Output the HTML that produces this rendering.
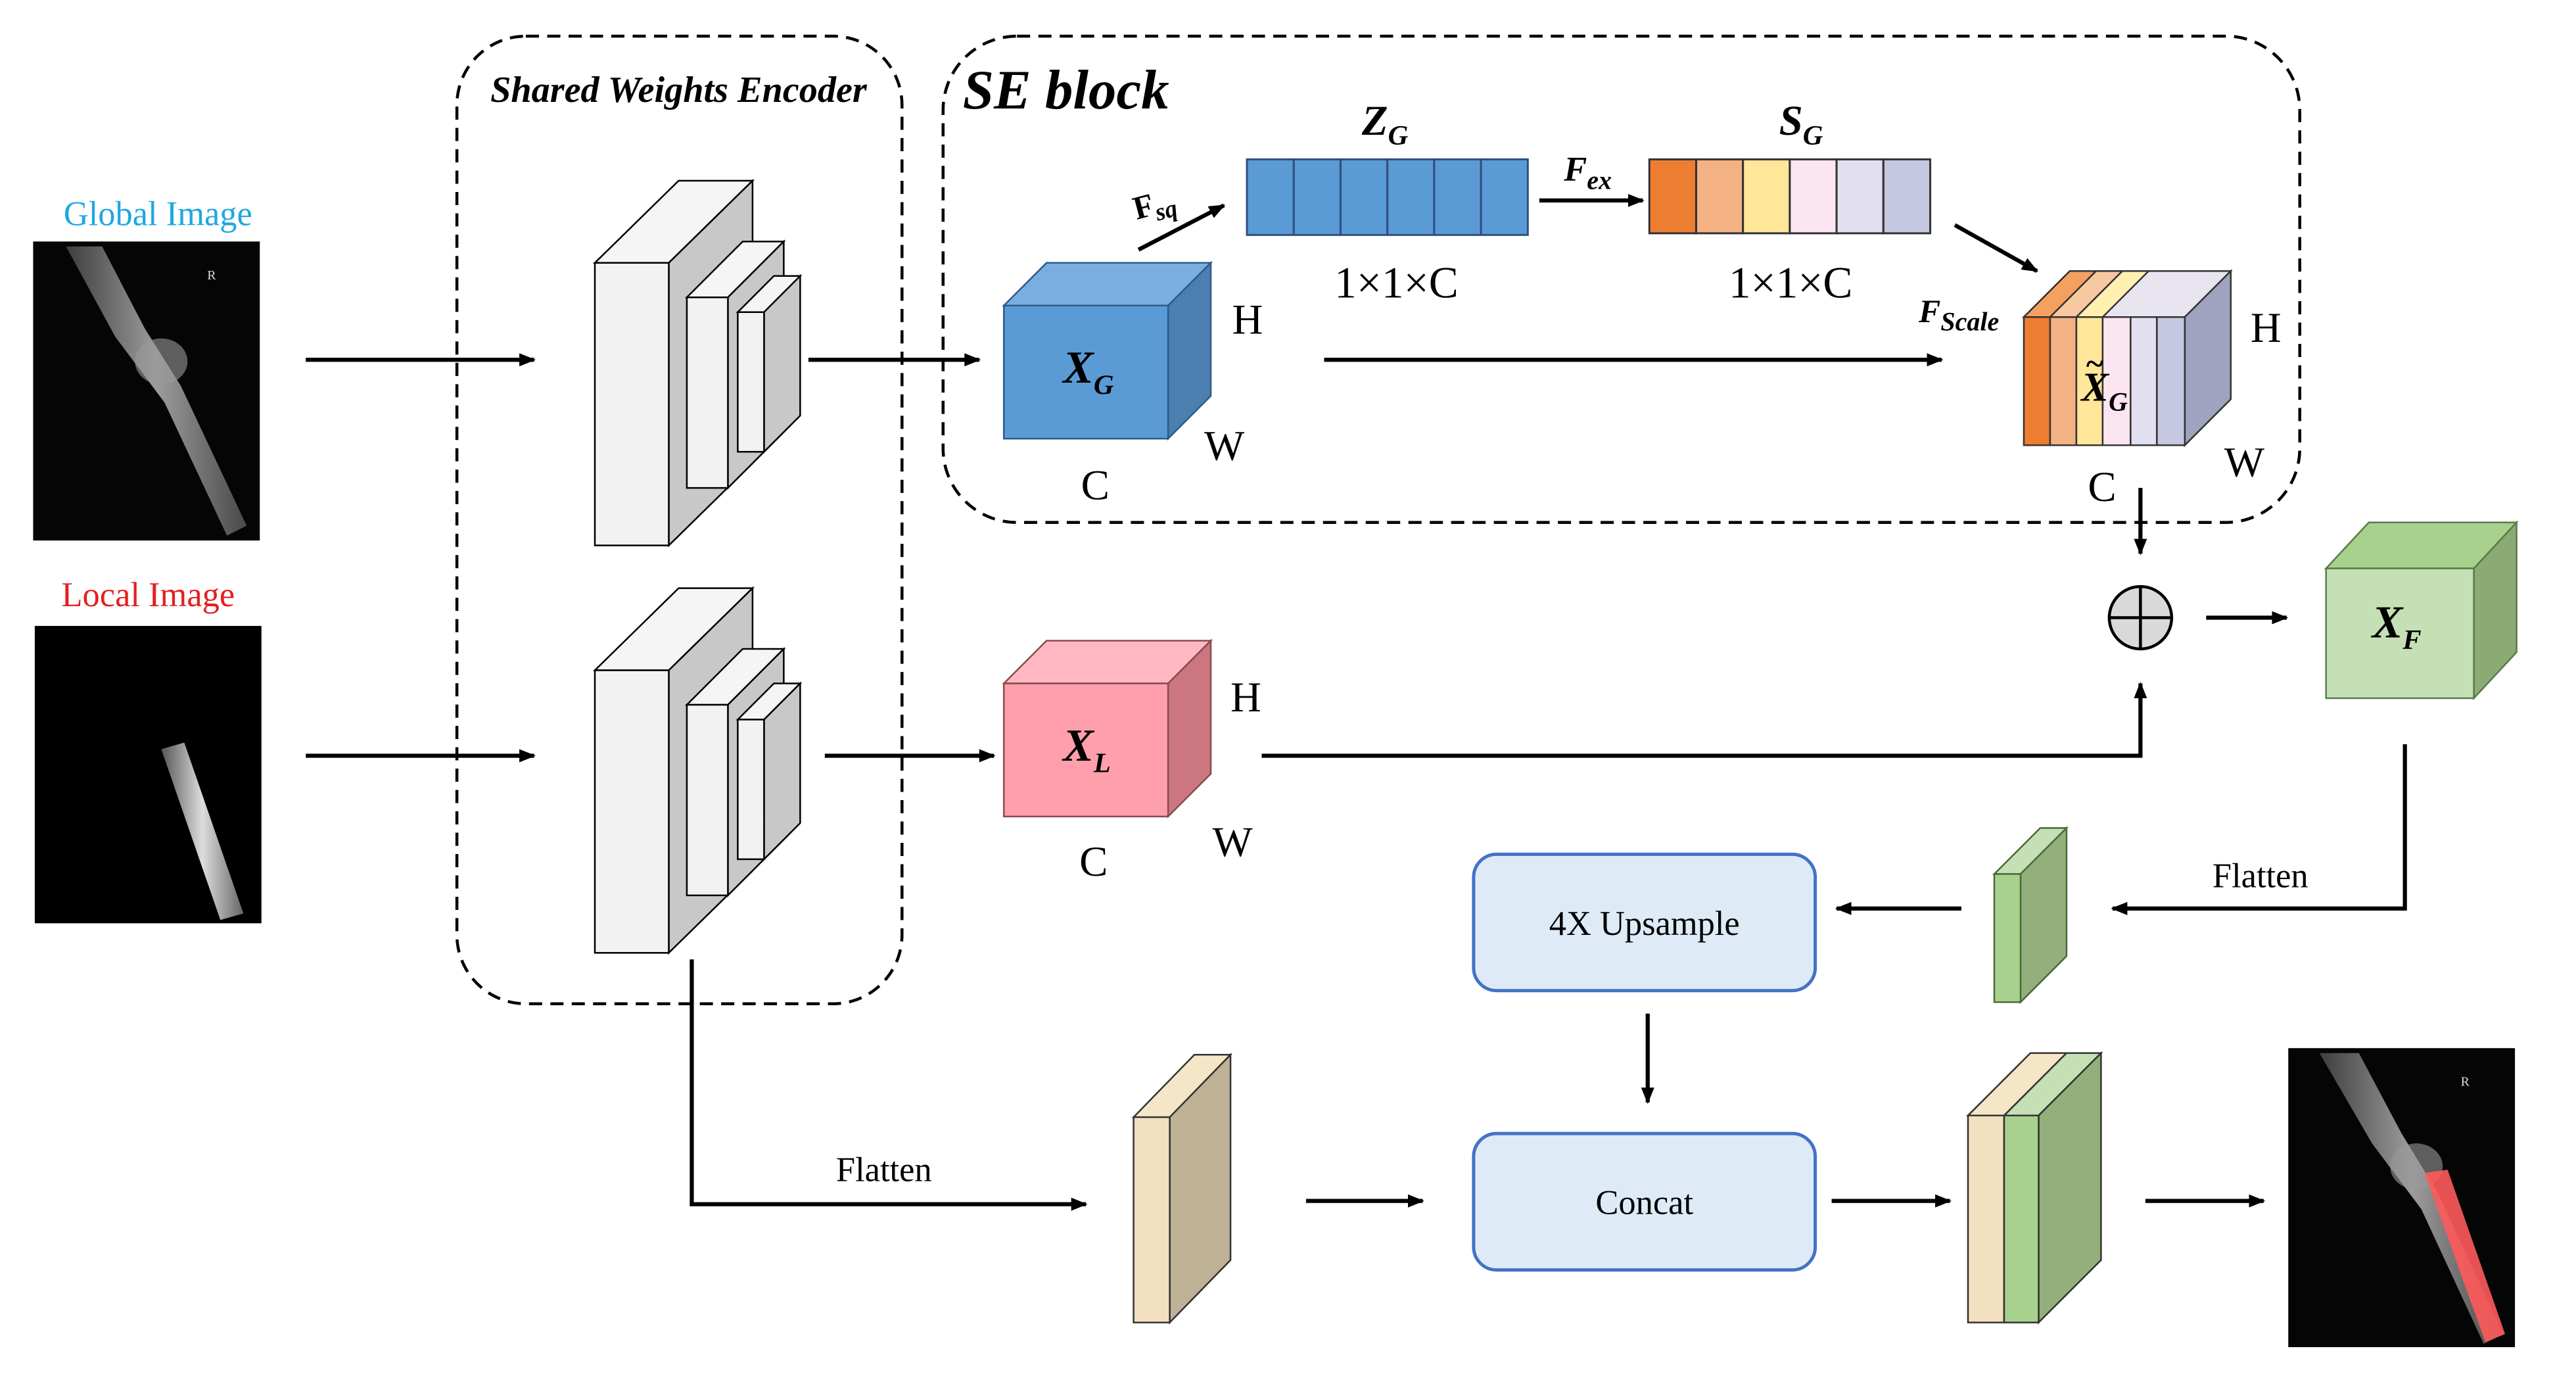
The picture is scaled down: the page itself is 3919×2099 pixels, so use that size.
<!DOCTYPE html>
<html><head><meta charset="utf-8"><style>
html,body{margin:0;padding:0;background:#fff;}
svg{display:block;}
text{font-family:"Liberation Serif",serif;}
</style></head><body>
<svg width="3919" height="2099" viewBox="0 0 1568 840" xmlns="http://www.w3.org/2000/svg">
<defs>
<marker id="ah" markerWidth="10" markerHeight="10" refX="9" refY="5" orient="auto" markerUnits="userSpaceOnUse">
<path d="M0,1 L10,5 L0,9 z" fill="#000"/></marker>
<linearGradient id="bone" x1="0" x2="1"><stop offset="0" stop-color="#555"/><stop offset=".5" stop-color="#ddd"/><stop offset="1" stop-color="#666"/></linearGradient>
</defs>
<rect width="1568" height="840" fill="#fff"/>

<text x="96" y="137" font-size="21" fill="#1ea8e0" text-anchor="middle">Global Image</text>
<rect x="20" y="147" width="138" height="182" fill="#050505"/>
<path d="M40,150 L62,150 L88,200 L110,235 L150,320 L138,326 L100,245 L70,205 Z" fill="url(#bone)" opacity=".7"/>
<ellipse cx="98" cy="220" rx="16" ry="14" fill="#9a9a9a" opacity=".6"/>
<text x="126" y="170" font-size="8" fill="#ddd">R</text>
<text x="90" y="369" font-size="21" fill="#e32020" text-anchor="middle">Local Image</text>
<rect x="21" y="381" width="138" height="181" fill="#000"/>
<path d="M98,456 L112,452 L148,556 L134,560 Z" fill="url(#bone)"/>

<g stroke="#000" stroke-width="2.5" fill="none" marker-end="url(#ah)">
<line x1="186" y1="219" x2="325" y2="219"/>
<line x1="186" y1="460" x2="325" y2="460"/>
<line x1="492" y1="219" x2="596" y2="219"/>
<line x1="502" y1="460" x2="605" y2="460"/>
<line x1="693" y1="152" x2="745" y2="125"/>
<line x1="937" y1="122" x2="1000" y2="122"/>
<line x1="1190" y1="137" x2="1240" y2="165"/>
<line x1="806" y1="219" x2="1182" y2="219"/>
<line x1="1303" y1="297" x2="1303" y2="337"/>
<line x1="1343" y1="376" x2="1392" y2="376"/>
<polyline points="768,460 1303,460 1303,416"/>
<polyline points="1464,453 1464,553 1286,553"/>
<line x1="1194" y1="553" x2="1118" y2="553"/>
<line x1="1003" y1="617" x2="1003" y2="671"/>
<polyline points="421,584 421,733 661,733"/>
<line x1="795" y1="731" x2="866" y2="731"/>
<line x1="1115" y1="731" x2="1187" y2="731"/>
<line x1="1306" y1="731" x2="1378" y2="731"/>
</g>

<rect x="278" y="22" width="271" height="589" rx="42" fill="none" stroke="#000" stroke-width="1.8" stroke-dasharray="8,5"/>
<text x="413" y="62" font-size="22.5" font-weight="bold" font-style="italic" text-anchor="middle">Shared Weights Encoder</text>

<g id="enc" stroke="#000" stroke-width="1">
<polygon points="362,160 413,110 458,110 407,160" fill="#f5f5f5"/>
<polygon points="407,160 458,110 458,282 407,332" fill="#c8c8c8"/>
<rect x="362" y="160" width="45" height="172" fill="#f2f2f2"/>
<polygon points="418,181 452,147 477,147 443,181" fill="#f5f5f5"/>
<polygon points="443,181 477,147 477,263 443,297" fill="#c8c8c8"/>
<rect x="418" y="181" width="25" height="116" fill="#f2f2f2"/>
<polygon points="449,190 471,168 487,168 465,190" fill="#f5f5f5"/>
<polygon points="465,190 487,168 487,253 465,275" fill="#c8c8c8"/>
<rect x="449" y="190" width="16" height="85" fill="#f2f2f2"/>
</g>
<use href="#enc" transform="translate(0,248)"/>

<rect x="574" y="22" width="826" height="296" rx="45" fill="none" stroke="#000" stroke-width="1.8" stroke-dasharray="8,5"/>
<text x="586" y="66" font-size="34" font-weight="bold" font-style="italic">SE block</text>

<g stroke="#2f5a8a" stroke-width="1">
<polygon points="611,186 637,160 737,160 711,186" fill="#7aaee0"/>
<polygon points="711,186 737,160 737,241 711,267" fill="#4a7fb0"/>
<rect x="611" y="186" width="100" height="81" fill="#5b9bd5"/>
</g>
<text x="647" y="233" font-size="28" font-weight="bold" font-style="italic">X<tspan font-size="17" dy="7">G</tspan></text>
<text x="750" y="203" font-size="26">H</text>
<text x="733" y="280" font-size="26">W</text>
<text x="658" y="304" font-size="26">C</text>

<text x="690" y="130" font-size="20" font-weight="bold" transform="rotate(-15 705 125)">F<tspan font-size="15" dy="4" font-style="italic">sq</tspan></text>

<g stroke="#2f4f7f" stroke-width="1.2" fill="#5b9bd5">
<rect x="759" y="97" width="28.5" height="46"/><rect x="787.5" y="97" width="28.5" height="46"/><rect x="816" y="97" width="28.5" height="46"/>
<rect x="844.5" y="97" width="28.5" height="46"/><rect x="873" y="97" width="28.5" height="46"/><rect x="901.5" y="97" width="28.5" height="46"/>
</g>
<text x="829" y="82" font-size="26" font-weight="bold" font-style="italic">Z<tspan font-size="17" dy="6">G</tspan></text>
<text x="850" y="181" font-size="27" text-anchor="middle">1×1×C</text>
<text x="952" y="110" font-size="21" font-weight="bold" font-style="italic">F<tspan font-size="16" dy="5">ex</tspan></text>

<g stroke="#333" stroke-width="1.2">
<rect x="1004" y="97" width="28.5" height="45" fill="#ed7d31"/><rect x="1032.5" y="97" width="28.5" height="45" fill="#f4b183"/>
<rect x="1061" y="97" width="28.5" height="45" fill="#ffe699"/><rect x="1089.5" y="97" width="28.5" height="45" fill="#fbe5f0"/>
<rect x="1118" y="97" width="28.5" height="45" fill="#e2e0f0"/><rect x="1146.5" y="97" width="28.5" height="45" fill="#c5c8e0"/>
</g>
<text x="1083" y="82" font-size="26" font-weight="bold" font-style="italic">S<tspan font-size="17" dy="6">G</tspan></text>
<text x="1090" y="181" font-size="27" text-anchor="middle">1×1×C</text>

<g stroke="#333" stroke-width="1">
<polygon points="1232,193 1260,165 1358,165 1330,193" fill="#e8e4f0"/>
<polygon points="1330,193 1358,165 1358,243 1330,271" fill="#9fa3c0"/>
<polygon points="1232,193 1260,165 1276,165 1248,193" fill="#f4a060"/>
<polygon points="1248,193 1276,165 1292,165 1264,193" fill="#f8c8a0"/>
<polygon points="1264,193 1292,165 1308,165 1280,193" fill="#fff0b0"/>
<rect x="1232" y="193" width="16" height="78" fill="#ed7d31"/>
<rect x="1248" y="193" width="16" height="78" fill="#f4b183"/>
<rect x="1264" y="193" width="16" height="78" fill="#ffe699"/>
<rect x="1280" y="193" width="17" height="78" fill="#fbe5f0"/>
<rect x="1297" y="193" width="16" height="78" fill="#e2e0f0"/>
<rect x="1313" y="193" width="17" height="78" fill="#c5c8e0"/>
</g>
<text x="1267" y="244" font-size="25" font-weight="bold" font-style="italic">X<tspan font-size="16" dy="6">G</tspan></text>
<text x="1270" y="228" font-size="20" font-weight="bold">~</text>
<text x="1168" y="196" font-size="20" font-weight="bold" font-style="italic">F<tspan font-size="16" dy="5">Scale</tspan></text>
<text x="1370" y="208" font-size="26">H</text>
<text x="1354" y="290" font-size="26">W</text>
<text x="1271" y="305" font-size="26">C</text>

<circle cx="1303" cy="376" r="19" fill="#d9d9d9" stroke="#000" stroke-width="1.8"/>
<line x1="1284" y1="376" x2="1322" y2="376" stroke="#000" stroke-width="1.8"/>
<line x1="1303" y1="357" x2="1303" y2="395" stroke="#000" stroke-width="1.8"/>

<g stroke="#5a7a4a" stroke-width="1">
<polygon points="1416,346 1442,318 1532,318 1506,346" fill="#a9d18e"/>
<polygon points="1506,346 1532,318 1532,397 1506,425" fill="#8aab74"/>
<rect x="1416" y="346" width="90" height="79" fill="#c5e0b4"/>
</g>
<text x="1444" y="388" font-size="28" font-weight="bold" font-style="italic">X<tspan font-size="17" dy="7">F</tspan></text>

<g stroke="#8a4a55" stroke-width="1">
<polygon points="611,416 637,390 737,390 711,416" fill="#ffb8c2"/>
<polygon points="711,416 737,390 737,471 711,497" fill="#cc7680"/>
<rect x="611" y="416" width="100" height="81" fill="#ff9fac"/>
</g>
<text x="647" y="463" font-size="28" font-weight="bold" font-style="italic">X<tspan font-size="17" dy="7">L</tspan></text>
<text x="749" y="433" font-size="26">H</text>
<text x="738" y="521" font-size="26">W</text>
<text x="657" y="533" font-size="26">C</text>

<text x="1376" y="540" font-size="21" text-anchor="middle">Flatten</text>
<text x="538" y="719" font-size="21" text-anchor="middle">Flatten</text>

<g stroke="#4a6a3a" stroke-width="1">
<polygon points="1214,532 1242,504 1258,504 1230,532" fill="#c5e0b4"/>
<polygon points="1230,532 1258,504 1258,582 1230,610" fill="#93b07c"/>
<rect x="1214" y="532" width="16" height="78" fill="#a9d18e"/>
</g>

<rect x="897" y="520" width="208" height="83" rx="14" fill="#deebf7" stroke="#4472c4" stroke-width="2"/>
<text x="1001" y="569" font-size="21" text-anchor="middle">4X Upsample</text>
<rect x="897" y="690" width="208" height="83" rx="14" fill="#deebf7" stroke="#4472c4" stroke-width="2"/>
<text x="1001" y="739" font-size="21" text-anchor="middle">Concat</text>

<g stroke="#333" stroke-width="1">
<polygon points="690,680 727,642 749,642 712,680" fill="#f5e6c8"/>
<polygon points="712,680 749,642 749,767 712,805" fill="#bfb196"/>
<rect x="690" y="680" width="22" height="125" fill="#f2e0c0"/>
</g>

<g stroke="#333" stroke-width="1">
<polygon points="1198,679 1236,641 1258,641 1220,679" fill="#f5e6c8"/>
<polygon points="1220,679 1258,641 1279,641 1241,679" fill="#c5e0b4"/>
<polygon points="1241,679 1279,641 1279,767 1241,805" fill="#93b07c"/>
<rect x="1198" y="679" width="22" height="126" fill="#f2e0c0"/>
<rect x="1220" y="679" width="21" height="126" fill="#a9d18e"/>
</g>

<rect x="1393" y="638" width="138" height="182" fill="#050505"/>
<path d="M1412,641 L1436,641 L1462,690 L1484,726 L1524,812 L1512,818 L1474,736 L1444,696 Z" fill="url(#bone)" opacity=".7"/>
<ellipse cx="1471" cy="710" rx="16" ry="14" fill="#9a9a9a" opacity=".6"/>
<path d="M1476,714 L1490,712 L1525,812 L1513,817 Z" fill="#ff5a5a" opacity=".9"/>
<text x="1498" y="661" font-size="8" fill="#ddd">R</text>
</svg>
</body></html>
